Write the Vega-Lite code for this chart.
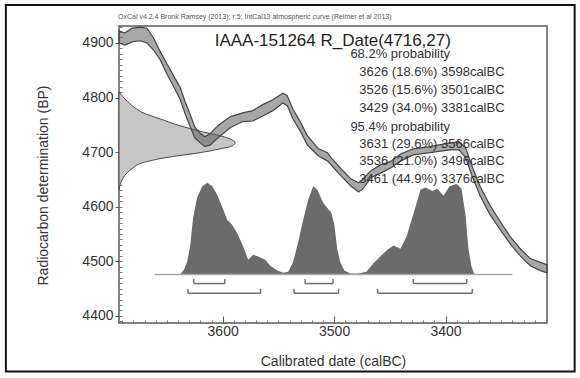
{
  "$schema": "https://vega.github.io/schema/vega-lite/v6.json",
  "width": 428,
  "height": 297,
  "autosize": {"type": "none"},
  "padding": {"left": 119, "top": 26, "right": 33, "bottom": 55},
  "background": "white",
  "config": {
    "font": "Liberation Sans",
    "view": {"stroke": "#5a5a5a", "strokeWidth": 1.5},
    "axis": {"domain": false, "grid": false}
  },
  "resolve": {"axis": {"x": "independent", "y": "independent"}},
  "datasets": {
    "curve": [
      {"cal":3693,"up":4922,"lo":4900},{"cal":3688,"up":4918,"lo":4896},{"cal":3681,"up":4927,"lo":4902},{"cal":3674,"up":4929,"lo":4904},{"cal":3668,"up":4927,"lo":4900},{"cal":3662,"up":4909,"lo":4887},{"cal":3656,"up":4884,"lo":4869},{"cal":3650,"up":4862,"lo":4843},{"cal":3643,"up":4836,"lo":4816},{"cal":3638,"up":4818,"lo":4796},{"cal":3634,"up":4794,"lo":4772},{"cal":3629,"up":4768,"lo":4746},{"cal":3625,"up":4746,"lo":4726},{"cal":3620,"up":4734,"lo":4717},{"cal":3616,"up":4728,"lo":4710},{"cal":3611,"up":4734,"lo":4713},{"cal":3607,"up":4743,"lo":4721},{"cal":3602,"up":4752,"lo":4730},{"cal":3593,"up":4765,"lo":4745},{"cal":3582,"up":4772,"lo":4756},{"cal":3573,"up":4776,"lo":4757},{"cal":3564,"up":4787,"lo":4766},{"cal":3555,"up":4796,"lo":4776},{"cal":3546,"up":4808,"lo":4790},{"cal":3542,"up":4803,"lo":4785},{"cal":3537,"up":4779,"lo":4761},{"cal":3530,"up":4754,"lo":4737},{"cal":3524,"up":4730,"lo":4713},{"cal":3514,"up":4706,"lo":4693},{"cal":3506,"up":4699,"lo":4684},{"cal":3502,"up":4688,"lo":4675},{"cal":3494,"up":4670,"lo":4657},{"cal":3485,"up":4651,"lo":4638},{"cal":3478,"up":4644,"lo":4627},{"cal":3474,"up":4651,"lo":4633},{"cal":3467,"up":4666,"lo":4653},{"cal":3458,"up":4677,"lo":4662},{"cal":3450,"up":4682,"lo":4670},{"cal":3440,"up":4697,"lo":4684},{"cal":3429,"up":4706,"lo":4695},{"cal":3414,"up":4710,"lo":4699},{"cal":3396,"up":4717,"lo":4704},{"cal":3388,"up":4719,"lo":4704},{"cal":3382,"up":4708,"lo":4690},{"cal":3376,"up":4673,"lo":4655},{"cal":3369,"up":4637,"lo":4620},{"cal":3360,"up":4602,"lo":4585},{"cal":3351,"up":4573,"lo":4558},{"cal":3342,"up":4545,"lo":4532},{"cal":3333,"up":4523,"lo":4510},{"cal":3324,"up":4505,"lo":4492},{"cal":3315,"up":4498,"lo":4483},{"cal":3309,"up":4494,"lo":4479}
    ],
    "rdate": [
      {"bp":4810,"cal":3693},{"bp":4797.5,"cal":3687.6},{"bp":4781,"cal":3678.6},{"bp":4772,"cal":3671.4},{"bp":4761,"cal":3656.2},{"bp":4750,"cal":3640.9},{"bp":4737,"cal":3617.5},{"bp":4730,"cal":3602.3},{"bp":4724,"cal":3593.3},{"bp":4717,"cal":3588.8},{"bp":4710,"cal":3593.3},{"bp":4706,"cal":3602.3},{"bp":4699,"cal":3620.2},{"bp":4693,"cal":3640.9},{"bp":4688,"cal":3656.2},{"bp":4684,"cal":3665.1},{"bp":4679,"cal":3674.1},{"bp":4671,"cal":3680.4},{"bp":4660,"cal":3686.7},{"bp":4649,"cal":3690.3},{"bp":4631,"cal":3693}
    ],
    "caldist": [
      {"cal":3638.2,"bp":4476},{"cal":3634.6,"bp":4485},{"cal":3631.9,"bp":4499},{"cal":3629.2,"bp":4527},{"cal":3626.5,"bp":4580},{"cal":3622.9,"bp":4617},{"cal":3618.4,"bp":4637},{"cal":3613.9,"bp":4644},{"cal":3609.4,"bp":4638},{"cal":3604.9,"bp":4622},{"cal":3600.5,"bp":4600},{"cal":3596,"bp":4576},{"cal":3591.5,"bp":4567},{"cal":3587,"bp":4552},{"cal":3581.6,"bp":4527},{"cal":3577.1,"bp":4503},{"cal":3572.6,"bp":4512},{"cal":3568.1,"bp":4509},{"cal":3561.8,"bp":4503},{"cal":3557.3,"bp":4492},{"cal":3551,"bp":4483},{"cal":3545.6,"bp":4479},{"cal":3541.2,"bp":4481},{"cal":3536.7,"bp":4499},{"cal":3532.2,"bp":4536},{"cal":3527.7,"bp":4576},{"cal":3523.2,"bp":4613},{"cal":3518.7,"bp":4638},{"cal":3515.1,"bp":4631},{"cal":3509.7,"bp":4607},{"cal":3502.5,"bp":4589},{"cal":3499.8,"bp":4567},{"cal":3497.1,"bp":4521},{"cal":3494.4,"bp":4498},{"cal":3490.8,"bp":4483},{"cal":3485.4,"bp":4477.5},{"cal":3478.3,"bp":4477.5},{"cal":3471.1,"bp":4481},{"cal":3464.8,"bp":4496},{"cal":3458.5,"bp":4509},{"cal":3452.2,"bp":4521},{"cal":3446.8,"bp":4529},{"cal":3440.5,"bp":4523},{"cal":3435.1,"bp":4545},{"cal":3428.8,"bp":4587},{"cal":3422.5,"bp":4631},{"cal":3418.1,"bp":4635},{"cal":3411.8,"bp":4629},{"cal":3407.3,"bp":4633},{"cal":3401.9,"bp":4620},{"cal":3396.5,"bp":4637},{"cal":3390.2,"bp":4642},{"cal":3385.7,"bp":4633},{"cal":3382.1,"bp":4585},{"cal":3379.4,"bp":4521},{"cal":3376.7,"bp":4490},{"cal":3374,"bp":4476}
    ],
    "ranges": [
      {"level":"68.2%","from":3626,"to":3598},{"level":"68.2%","from":3526,"to":3501},{"level":"68.2%","from":3429,"to":3381},
      {"level":"95.4%","from":3631,"to":3566},{"level":"95.4%","from":3536,"to":3496},{"level":"95.4%","from":3461,"to":3376}
    ]
  },
  "layer": [
    {
      "data": {"name": "rdate"},
      "mark": {"type": "area", "orient": "horizontal", "interpolate": "monotone", "fill": "#c6c6c6", "stroke": "#4a4a4a", "strokeWidth": 1},
      "encoding": {
        "y": {"field": "bp", "type": "quantitative", "scale": {"domain": [4387, 4931], "nice": false, "zero": false},
              "axis": {"orient": "left", "values": [4390,4400,4410,4420,4430,4440,4450,4460,4470,4480,4490,4500,4510,4520,4530,4540,4550,4560,4570,4580,4590,4600,4610,4620,4630,4640,4650,4660,4670,4680,4690,4700,4710,4720,4730,4740,4750,4760,4770,4780,4790,4800,4810,4820,4830,4840,4850,4860,4870,4880,4890,4900,4910,4920,4930], "labels": false, "tickSize": 3, "offset": -3, "tickColor": "#777", "tickWidth": 1, "title": null}},
        "x": {"field": "cal", "type": "quantitative", "scale": {"domain": [3309, 3693], "reverse": true, "nice": false, "zero": false},
              "axis": {"orient": "bottom", "values": [3310,3320,3330,3340,3350,3360,3370,3380,3390,3400,3410,3420,3430,3440,3450,3460,3470,3480,3490,3500,3510,3520,3530,3540,3550,3560,3570,3580,3590,3600,3610,3620,3630,3640,3650,3660,3670,3680,3690], "labels": false, "tickSize": 3, "offset": -3, "tickColor": "#777", "tickWidth": 1, "title": null}},
        "x2": {"datum": 3693}
      }
    },
    {
      "data": {"name": "curve"},
      "mark": {"type": "area", "fill": "#5e5e5e", "fillOpacity": 0.55, "stroke": "#454545", "strokeWidth": 1.2},
      "encoding": {
        "x": {"field": "cal", "type": "quantitative", "scale": {"domain": [3309, 3693], "reverse": true, "nice": false, "zero": false},
              "axis": {"orient": "bottom", "values": [3400, 3500, 3600], "format": "d", "ticks": false, "labelPadding": 1, "labelFontSize": 14, "labelColor": "#333", "labelFlush": false, "labelOverlap": false, "title": "Calibrated date (calBC)", "titleFontSize": 14, "titleFontWeight": "normal", "titleColor": "#333", "titleY": 31, "titleBaseline": "top"}},
        "y": {"field": "up", "type": "quantitative", "scale": {"domain": [4387, 4931], "nice": false, "zero": false},
              "axis": {"orient": "left", "values": [4400, 4500, 4600, 4700, 4800, 4900], "format": "d", "tickSize": 4, "tickColor": "#555", "tickWidth": 1, "labelPadding": 2, "labelFontSize": 14, "labelColor": "#333", "labelFlush": false, "labelOverlap": false, "title": "Radiocarbon determination (BP)", "titleFontSize": 14, "titleFontWeight": "normal", "titleColor": "#333", "titleX": -72, "titleY": 159, "titleAngle": 270, "titleBaseline": "alphabetic", "titleAlign": "center"}},
        "y2": {"field": "lo"}
      }
    },
    {
      "data": {"name": "caldist"},
      "mark": {"type": "area", "fill": "#6b6b6b"},
      "encoding": {
        "x": {"field": "cal", "type": "quantitative", "scale": {"domain": [3309, 3693], "reverse": true, "nice": false, "zero": false},
              "axis": {"orient": "bottom", "values": [3400, 3500, 3600], "labels": false, "tickSize": 7, "offset": -7, "tickColor": "#555", "tickWidth": 1, "title": null}},
        "y": {"field": "bp", "type": "quantitative", "scale": {"domain": [4387, 4931], "nice": false, "zero": false}, "axis": null},
        "y2": {"datum": 4476}
      }
    },
    {
      "data": {"values": [{}]},
      "mark": {"type": "rule", "color": "#a9a9a9", "strokeWidth": 1.5},
      "encoding": {
        "x": {"datum": 3661, "type": "quantitative", "scale": {"domain": [3309, 3693], "reverse": true, "nice": false, "zero": false}, "axis": null},
        "x2": {"datum": 3340},
        "y": {"datum": 4476, "type": "quantitative", "scale": {"domain": [4387, 4931], "nice": false, "zero": false}, "axis": null}
      }
    },
    {
      "data": {"name": "ranges"},
      "transform": [{"filter": "datum.level === '68.2%'"}],
      "mark": {"type": "rule", "color": "#707070", "strokeWidth": 1.5},
      "encoding": {
        "x": {"field": "from", "type": "quantitative", "scale": {"domain": [3309, 3693], "reverse": true, "nice": false, "zero": false}, "axis": null},
        "x2": {"field": "to"},
        "y": {"datum": 4459.2, "type": "quantitative", "scale": {"domain": [4387, 4931], "nice": false, "zero": false}, "axis": null}
      }
    },
    {
      "data": {"name": "ranges"},
      "transform": [{"filter": "datum.level === '68.2%'"}, {"fold": ["from", "to"], "as": ["end", "cal"]}],
      "mark": {"type": "rule", "color": "#707070", "strokeWidth": 1.5},
      "encoding": {
        "x": {"field": "cal", "type": "quantitative", "scale": {"domain": [3309, 3693], "reverse": true, "nice": false, "zero": false}, "axis": null},
        "y": {"datum": 4459.2, "type": "quantitative", "scale": {"domain": [4387, 4931], "nice": false, "zero": false}, "axis": null},
        "y2": {"datum": 4467.8}
      }
    },
    {
      "data": {"name": "ranges"},
      "transform": [{"filter": "datum.level === '95.4%'"}],
      "mark": {"type": "rule", "color": "#707070", "strokeWidth": 1.5},
      "encoding": {
        "x": {"field": "from", "type": "quantitative", "scale": {"domain": [3309, 3693], "reverse": true, "nice": false, "zero": false}, "axis": null},
        "x2": {"field": "to"},
        "y": {"datum": 4441.4, "type": "quantitative", "scale": {"domain": [4387, 4931], "nice": false, "zero": false}, "axis": null}
      }
    },
    {
      "data": {"name": "ranges"},
      "transform": [{"filter": "datum.level === '95.4%'"}, {"fold": ["from", "to"], "as": ["end", "cal"]}],
      "mark": {"type": "rule", "color": "#707070", "strokeWidth": 1.5},
      "encoding": {
        "x": {"field": "cal", "type": "quantitative", "scale": {"domain": [3309, 3693], "reverse": true, "nice": false, "zero": false}, "axis": null},
        "y": {"datum": 4441.4, "type": "quantitative", "scale": {"domain": [4387, 4931], "nice": false, "zero": false}, "axis": null},
        "y2": {"datum": 4449.5}
      }
    },
    {
      "data": {"values": [{"t": "OxCal v4.2.4 Bronk Ramsey (2013); r:5; IntCal13 atmospheric curve (Reimer et al 2013)"}]},
      "mark": {"type": "text", "align": "left", "baseline": "middle", "fontSize": 7, "color": "#555"},
      "encoding": {
        "text": {"field": "t"},
        "x": {"datum": 3693.9, "type": "quantitative", "scale": {"domain": [3309, 3693], "reverse": true, "nice": false, "zero": false}, "axis": null},
        "y": {"datum": 4947.5, "type": "quantitative", "scale": {"domain": [4387, 4931], "nice": false, "zero": false}, "axis": null}
      }
    },
    {
      "data": {"values": [{"t": "IAAA-151264 R_Date(4716,27)"}]},
      "mark": {"type": "text", "align": "center", "baseline": "alphabetic", "fontSize": 17, "color": "#1e1e1e"},
      "encoding": {
        "text": {"field": "t"},
        "x": {"datum": 3501.2, "type": "quantitative", "scale": {"domain": [3309, 3693], "reverse": true, "nice": false, "zero": false}, "axis": null},
        "y": {"datum": 4895, "type": "quantitative", "scale": {"domain": [4387, 4931], "nice": false, "zero": false}, "axis": null}
      }
    },
    {
      "data": {"values": [{"t": "68.2% probability"}]},
      "mark": {"type": "text", "align": "left", "baseline": "middle", "fontSize": 13, "color": "#333"},
      "encoding": {
        "text": {"field": "t"},
        "x": {"datum": 3485.4, "type": "quantitative", "scale": {"domain": [3309, 3693], "reverse": true, "nice": false, "zero": false}, "axis": null},
        "y": {"datum": 4879.3, "type": "quantitative", "scale": {"domain": [4387, 4931], "nice": false, "zero": false}, "axis": null}
      }
    },
    {
      "data": {"values": [{"t": "3626 (18.6%) 3598calBC"}]},
      "mark": {"type": "text", "align": "left", "baseline": "middle", "fontSize": 13, "color": "#333"},
      "encoding": {
        "text": {"field": "t"},
        "x": {"datum": 3477.4, "type": "quantitative", "scale": {"domain": [3309, 3693], "reverse": true, "nice": false, "zero": false}, "axis": null},
        "y": {"datum": 4846.4, "type": "quantitative", "scale": {"domain": [4387, 4931], "nice": false, "zero": false}, "axis": null}
      }
    },
    {
      "data": {"values": [{"t": "3526 (15.6%) 3501calBC"}]},
      "mark": {"type": "text", "align": "left", "baseline": "middle", "fontSize": 13, "color": "#333"},
      "encoding": {
        "text": {"field": "t"},
        "x": {"datum": 3477.4, "type": "quantitative", "scale": {"domain": [3309, 3693], "reverse": true, "nice": false, "zero": false}, "axis": null},
        "y": {"datum": 4814, "type": "quantitative", "scale": {"domain": [4387, 4931], "nice": false, "zero": false}, "axis": null}
      }
    },
    {
      "data": {"values": [{"t": "3429 (34.0%) 3381calBC"}]},
      "mark": {"type": "text", "align": "left", "baseline": "middle", "fontSize": 13, "color": "#333"},
      "encoding": {
        "text": {"field": "t"},
        "x": {"datum": 3477.4, "type": "quantitative", "scale": {"domain": [3309, 3693], "reverse": true, "nice": false, "zero": false}, "axis": null},
        "y": {"datum": 4780.5, "type": "quantitative", "scale": {"domain": [4387, 4931], "nice": false, "zero": false}, "axis": null}
      }
    },
    {
      "data": {"values": [{"t": "95.4% probability"}]},
      "mark": {"type": "text", "align": "left", "baseline": "middle", "fontSize": 13, "color": "#333"},
      "encoding": {
        "text": {"field": "t"},
        "x": {"datum": 3485.4, "type": "quantitative", "scale": {"domain": [3309, 3693], "reverse": true, "nice": false, "zero": false}, "axis": null},
        "y": {"datum": 4746.9, "type": "quantitative", "scale": {"domain": [4387, 4931], "nice": false, "zero": false}, "axis": null}
      }
    },
    {
      "data": {"values": [{"t": "3631 (29.6%) 3566calBC"}]},
      "mark": {"type": "text", "align": "left", "baseline": "middle", "fontSize": 13, "color": "#333"},
      "encoding": {
        "text": {"field": "t"},
        "x": {"datum": 3477.4, "type": "quantitative", "scale": {"domain": [3309, 3693], "reverse": true, "nice": false, "zero": false}, "axis": null},
        "y": {"datum": 4714.7, "type": "quantitative", "scale": {"domain": [4387, 4931], "nice": false, "zero": false}, "axis": null}
      }
    },
    {
      "data": {"values": [{"t": "3536 (21.0%) 3496calBC"}]},
      "mark": {"type": "text", "align": "left", "baseline": "middle", "fontSize": 13, "color": "#333"},
      "encoding": {
        "text": {"field": "t"},
        "x": {"datum": 3477.4, "type": "quantitative", "scale": {"domain": [3309, 3693], "reverse": true, "nice": false, "zero": false}, "axis": null},
        "y": {"datum": 4682.9, "type": "quantitative", "scale": {"domain": [4387, 4931], "nice": false, "zero": false}, "axis": null}
      }
    },
    {
      "data": {"values": [{"t": "3461 (44.9%) 3376calBC"}]},
      "mark": {"type": "text", "align": "left", "baseline": "middle", "fontSize": 13, "color": "#333"},
      "encoding": {
        "text": {"field": "t"},
        "x": {"datum": 3477.4, "type": "quantitative", "scale": {"domain": [3309, 3693], "reverse": true, "nice": false, "zero": false}, "axis": null},
        "y": {"datum": 4650.7, "type": "quantitative", "scale": {"domain": [4387, 4931], "nice": false, "zero": false}, "axis": null}
      }
    },
    {
      "data": {"values": [{}]},
      "mark": {"type": "rect", "fillOpacity": 0, "stroke": "#111", "strokeWidth": 2},
      "encoding": {
        "x": {"datum": 3794.5, "type": "quantitative", "scale": {"domain": [3309, 3693], "reverse": true, "nice": false, "zero": false}, "axis": null},
        "x2": {"datum": 3284.2},
        "y": {"datum": 4969.5, "type": "quantitative", "scale": {"domain": [4387, 4931], "nice": false, "zero": false}, "axis": null},
        "y2": {"datum": 4298.2}
      }
    }
  ]
}
